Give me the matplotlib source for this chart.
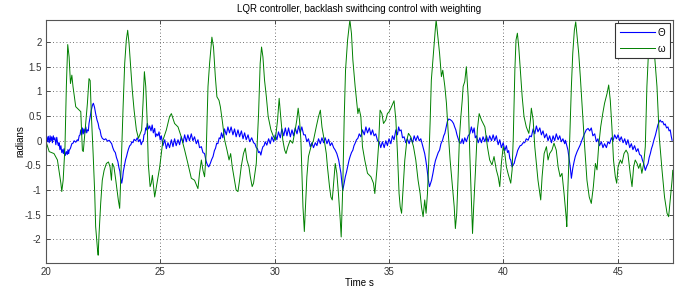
import numpy as np
import matplotlib
matplotlib.use("Agg")
import matplotlib.pyplot as plt

# omega (green) trace
omega_t = [
    20.00, 20.15, 20.36, 20.51, 20.66, 20.70, 20.76, 20.84, 20.90, 20.96,
    21.02, 21.08, 21.14, 21.19, 21.31, 21.46, 21.53, 21.60, 21.64, 21.72,
    21.82, 21.89, 21.94, 21.99, 22.07, 22.14, 22.18, 22.26, 22.29, 22.33,
    22.40, 22.47, 22.55, 22.65, 22.74, 22.81, 22.87, 22.91, 22.98, 23.06,
    23.17, 23.23, 23.29, 23.38, 23.45, 23.52, 23.58, 23.64, 23.71, 23.78,
    23.86, 23.96, 24.05, 24.10, 24.19, 24.25, 24.31, 24.37, 24.43, 24.48,
    24.56, 24.61, 24.66, 24.76, 24.86, 24.98, 25.12, 25.27, 25.41, 25.49,
    25.63, 25.78, 25.92, 26.07, 26.21, 26.36, 26.50, 26.65, 26.72, 26.80,
    26.87, 26.94, 27.01, 27.09, 27.16, 27.26, 27.33, 27.41, 27.48, 27.57,
    27.63, 27.71, 27.82, 27.92, 28.01, 28.08, 28.15, 28.25, 28.32, 28.40,
    28.47, 28.54, 28.64, 28.72, 28.79, 28.88, 28.94, 29.02, 29.08, 29.20,
    29.30, 29.37, 29.43, 29.49, 29.56, 29.64, 29.72, 29.84, 29.93, 30.03,
    30.13, 30.20, 30.28, 30.36, 30.44, 30.50, 30.58, 30.68, 30.79, 30.90,
    30.97, 31.03, 31.09, 31.15, 31.19, 31.24, 31.30, 31.35, 31.41, 31.48,
    31.59, 31.70, 31.82, 31.92, 32.00, 32.07, 32.17, 32.26, 32.31, 32.40,
    32.46, 32.52, 32.58, 32.65, 32.72, 32.79, 32.87, 32.91, 32.98, 33.04,
    33.10, 33.19, 33.29, 33.36, 33.42, 33.52, 33.64, 33.69, 33.77, 33.84,
    33.94, 34.06, 34.21, 34.32, 34.38, 34.47, 34.54, 34.61, 34.69, 34.76,
    34.86, 34.93, 35.01, 35.08, 35.17, 35.22, 35.30, 35.37, 35.44, 35.49,
    35.55, 35.62, 35.69, 35.78, 35.85, 35.95, 36.07, 36.17, 36.27, 36.36,
    36.42, 36.49, 36.56, 36.62, 36.68, 36.74, 36.80, 36.85, 36.94, 37.02,
    37.06, 37.12, 37.21, 37.29, 37.35, 37.44, 37.51, 37.58, 37.67, 37.77,
    37.85, 37.90, 37.96, 38.02, 38.08, 38.14, 38.20, 38.24, 38.31, 38.38,
    38.46, 38.53, 38.60, 38.65, 38.70, 38.78, 38.86, 38.94, 39.04, 39.19,
    39.30, 39.40, 39.50, 39.59, 39.69, 39.77, 39.84, 39.91, 39.99, 40.06,
    40.13, 40.20, 40.32, 40.38, 40.43, 40.50, 40.55, 40.61, 40.67, 40.74,
    40.82, 40.90, 41.00, 41.11, 41.18, 41.22, 41.30, 41.37, 41.44, 41.51,
    41.59, 41.63, 41.69, 41.78, 41.88, 41.95, 42.02, 42.12, 42.21, 42.31,
    42.39, 42.48, 42.56, 42.65, 42.74, 42.77, 42.82, 42.90, 42.97, 43.03,
    43.10, 43.16, 43.22, 43.29, 43.36, 43.46, 43.55, 43.65, 43.75, 43.84,
    43.93, 44.02, 44.09, 44.16, 44.25, 44.34, 44.42, 44.53, 44.60, 44.67,
    44.74, 44.81, 44.89, 44.95, 45.01, 45.11, 45.18, 45.27, 45.36, 45.44,
    45.54, 45.62, 45.69, 45.76, 45.84, 45.91, 45.98, 46.05, 46.13, 46.20,
    46.27, 46.35, 46.42, 46.48, 46.55, 46.61, 46.71, 46.81, 46.93, 47.04,
    47.15, 47.22, 47.29, 47.37, 47.40,
]
omega_v = [
    0.00, -0.22, -0.26, -0.39, -0.86, -1.03, -0.80, -0.12, 1.10, 1.95,
    1.70, 1.16, 1.33, 1.10, 0.69, 0.62, 0.59, -0.19, -0.22, 0.22,
    0.76, 1.26, 1.22, 0.55, -0.26, -1.07, -1.74, -2.20, -2.32, -1.88,
    -1.27, -0.80, -0.60, -0.46, -0.43, -0.53, -0.80, -0.46, -0.53, -0.80,
    -1.20, -1.37, -0.59, 0.69, 1.57, 2.04, 2.24, 1.97, 1.50, 1.03,
    0.62, 0.22, 0.05, 0.11, 0.22, 0.76, 1.40, 1.10, 0.42, -0.46,
    -0.93, -0.86, -0.70, -1.14, -0.86, -0.53, 0.01, 0.22, 0.49, 0.55,
    0.35, 0.28, 0.08, -0.19, -0.46, -0.76, -0.80, -0.97, -0.66, -0.39,
    -0.60, -0.73, -0.26, 1.10, 1.57, 2.10, 1.90, 1.30, 0.89, 0.82,
    0.69, 0.42, 0.01, -0.19, -0.39, -0.26, -0.53, -0.80, -1.00, -1.03,
    -0.80, -0.53, -0.26, -0.15, -0.39, -0.53, -0.73, -0.93, -0.86, -0.46,
    0.55, 1.57, 1.90, 1.70, 1.23, 0.89, 0.49, 0.22, 0.11, 0.01,
    0.42, 0.86, 0.42, 0.01, -0.19, -0.26, -0.12, 0.01, -0.05, 0.22,
    0.42, 0.66, 0.42, 0.01, -0.60, -1.34, -1.84, -1.34, -0.73, -0.32,
    -0.12, 0.01, 0.28, 0.49, 0.62, 0.28, 0.01, -0.26, -0.53, -0.93,
    -1.14, -1.20, -0.86, -0.46, -0.66, -1.07, -1.61, -1.95, -0.93, 0.42,
    1.43, 2.04, 2.45, 2.17, 1.64, 1.10, 0.55, 0.66, 0.49, -0.12,
    -0.39, -0.66, -0.73, -0.86, -1.07, -0.59, -0.12, 0.62, 0.55, 0.35,
    0.42, 0.55, 0.59, 0.66, 0.76, 0.81, 0.42, -0.26, -1.07, -1.34,
    -1.47, -0.93, -0.39, 0.01, 0.15, 0.08, -0.12, -0.39, -0.80, -1.07,
    -1.34, -1.54, -1.20, -1.47, -1.07, -0.39, 0.42, 1.23, 1.77, 2.24,
    2.45, 2.17, 1.77, 1.30, 1.43, 1.10, 0.76, 0.22, -0.39, -0.93,
    -1.34, -1.78, -1.47, -0.73, 0.08, 0.49, 0.82, 1.10, 1.20, 1.50,
    0.89, -0.26, -1.20, -1.88, -1.34, -0.59, 0.22, 0.55, 0.42, 0.28,
    -0.12, -0.39, -0.49, -0.32, -0.59, -0.73, -0.93, -0.46, -0.12, -0.26,
    -0.53, -0.66, -0.86, -0.59, 0.05, 1.43, 2.04, 2.18, 1.90, 1.43,
    0.89, 0.49, 0.28, 0.15, 0.42, 0.66, 0.42, -0.12, -0.46, -0.80,
    -1.07, -1.20, -0.73, -0.26, -0.12, -0.39, -0.26, -0.19, -0.05, -0.19,
    -0.53, -0.73, -0.66, -1.07, -1.54, -1.74, -0.93, 0.08, 1.10, 1.77,
    2.24, 2.41, 2.11, 1.77, 1.30, 0.55, -0.12, -0.80, -1.14, -1.27,
    -0.93, -0.46, -0.59, -0.12, 0.28, 0.55, 0.76, 0.96, 1.13, 0.82,
    0.28, -0.39, -0.73, -0.86, -0.53, -0.39, -0.46, -0.26, -0.19, -0.26,
    -0.66, -0.93, -0.53, -0.39, -0.46, -0.56, -0.46, -0.66, -0.46, -0.12,
    1.10, 1.90, 2.18, 2.35, 2.10, 1.70, 1.10, 0.08, -0.59, -1.14,
    -1.47, -1.54, -1.20, -0.80, -0.60,
]

# theta (blue) trace
theta_t = [
    20.00, 20.04, 20.07, 20.11, 20.15, 20.19, 20.22, 20.26, 20.29, 20.33,
    20.36, 20.40, 20.44, 20.48, 20.51, 20.55, 20.58, 20.62, 20.66, 20.70,
    20.74, 20.77, 20.80, 20.85, 20.90, 20.94, 20.97, 21.00, 21.02, 21.08,
    21.14, 21.19, 21.24, 21.31, 21.38, 21.42, 21.46, 21.50, 21.53, 21.57,
    21.60, 21.64, 21.67, 21.71, 21.75, 21.79, 21.82, 21.86, 21.89, 21.94,
    21.99, 22.04, 22.08, 22.13, 22.18, 22.24, 22.29, 22.33, 22.37, 22.42,
    22.47, 22.55, 22.62, 22.70, 22.77, 22.83, 22.88, 22.93, 22.98, 23.04,
    23.09, 23.15, 23.20, 23.24, 23.27, 23.32, 23.36, 23.39, 23.44, 23.49,
    23.53, 23.57, 23.62, 23.67, 23.72, 23.76, 23.81, 23.86, 23.93, 24.00,
    24.06, 24.12, 24.17, 24.22, 24.26, 24.29, 24.33, 24.37, 24.40, 24.44,
    24.49, 24.54, 24.60, 24.65, 24.70, 24.76, 24.80, 24.85, 24.90, 24.95,
    25.00, 25.05, 25.12, 25.20, 25.27, 25.34, 25.41, 25.49, 25.56, 25.63,
    25.70, 25.78, 25.85, 25.92, 26.00, 26.07, 26.14, 26.21, 26.28, 26.36,
    26.43, 26.50, 26.58, 26.65, 26.72, 26.80, 26.87, 26.94, 27.00, 27.04,
    27.08, 27.12, 27.16, 27.19, 27.25, 27.31, 27.37, 27.42, 27.47, 27.52,
    27.58, 27.63, 27.68, 27.74, 27.81, 27.89, 27.96, 28.03, 28.10, 28.18,
    28.25, 28.32, 28.40, 28.47, 28.55, 28.62, 28.69, 28.76, 28.84, 28.91,
    29.00, 29.08, 29.14, 29.20, 29.25, 29.30, 29.35, 29.40, 29.45, 29.49,
    29.54, 29.59, 29.66, 29.74, 29.81, 29.88, 29.96, 30.03, 30.10, 30.17,
    30.25, 30.32, 30.40, 30.47, 30.54, 30.61, 30.69, 30.76, 30.83, 30.90,
    30.98, 31.05, 31.12, 31.19, 31.27, 31.34, 31.41, 31.48, 31.56, 31.63,
    31.70, 31.78, 31.85, 31.92, 32.00, 32.07, 32.14, 32.21, 32.29, 32.36,
    32.43, 32.50, 32.58, 32.65, 32.72, 32.80, 32.85, 32.90, 32.94, 32.98,
    33.04, 33.09, 33.14, 33.19, 33.25, 33.30, 33.36, 33.42, 33.47, 33.52,
    33.58, 33.64, 33.70, 33.77, 33.84, 33.92, 33.99, 34.06, 34.14, 34.21,
    34.28, 34.35, 34.42, 34.50, 34.57, 34.64, 34.71, 34.79, 34.86, 34.93,
    35.00, 35.08, 35.15, 35.22, 35.30, 35.37, 35.42, 35.47, 35.53, 35.59,
    35.66, 35.73, 35.80, 35.88, 35.95, 36.03, 36.10, 36.17, 36.25, 36.32,
    36.39, 36.46, 36.51, 36.56, 36.61, 36.65, 36.69, 36.72, 36.77, 36.82,
    36.86, 36.92, 36.97, 37.03, 37.09, 37.15, 37.21, 37.27, 37.34, 37.39,
    37.44, 37.50, 37.55, 37.61, 37.67, 37.75, 37.82, 37.87, 37.92, 37.97,
    38.02, 38.08, 38.14, 38.20, 38.25, 38.31, 38.38, 38.46, 38.53, 38.60,
    38.66, 38.72, 38.77, 38.82, 38.90, 38.97, 39.04, 39.11, 39.19, 39.26,
    39.33, 39.40, 39.48, 39.55, 39.62, 39.69, 39.77, 39.84, 39.91, 39.99,
    40.06, 40.13, 40.18, 40.23, 40.28, 40.32, 40.38, 40.43, 40.47, 40.52,
    40.57, 40.62, 40.67, 40.73, 40.79, 40.86, 40.93, 41.00, 41.08, 41.15,
    41.22, 41.30, 41.37, 41.44, 41.51, 41.59, 41.66, 41.73, 41.80, 41.88,
    41.95, 42.02, 42.10, 42.17, 42.24, 42.31, 42.39, 42.46, 42.53, 42.60,
    42.68, 42.71, 42.76, 42.82, 42.87, 42.92, 42.97, 43.00, 43.03, 43.09,
    43.14, 43.22, 43.29, 43.36, 43.43, 43.49, 43.55, 43.62, 43.70, 43.77,
    43.84, 43.91, 43.99, 44.06, 44.13, 44.20, 44.28, 44.35, 44.42, 44.50,
    44.57, 44.64, 44.72, 44.79, 44.86, 44.94, 45.01, 45.08, 45.15, 45.23,
    45.30, 45.37, 45.44, 45.52, 45.59, 45.66, 45.73, 45.81, 45.88, 45.95,
    46.02, 46.08, 46.13, 46.17, 46.20, 46.26, 46.32, 46.37, 46.42, 46.47,
    46.52, 46.58, 46.64, 46.70, 46.75, 46.80, 46.85, 46.90, 46.96, 47.02,
    47.07, 47.13, 47.19, 47.24, 47.29, 47.33, 47.37,
]
theta_v = [
    0.00, 0.08, -0.02, 0.09, -0.04, 0.10, 0.00, 0.08, -0.04, 0.10,
    0.02, 0.06, -0.08, 0.07, -0.02, -0.10, -0.04, -0.18, -0.10, -0.24,
    -0.18, -0.26, -0.16, -0.30, -0.22, -0.28, -0.18, -0.26, -0.20, -0.15,
    -0.06, -0.05, 0.00, -0.03, 0.02, 0.00, 0.10, 0.12, 0.22, 0.12,
    0.26, 0.14, 0.24, 0.16, 0.28, 0.16, 0.22, 0.20, 0.35, 0.48,
    0.62, 0.72, 0.76, 0.68, 0.55, 0.42, 0.35, 0.25, 0.22, 0.10,
    0.05, 0.02, 0.04, -0.01, 0.01, -0.03, -0.06, -0.14, -0.20, -0.24,
    -0.34, -0.42, -0.55, -0.62, -0.75, -0.86, -0.75, -0.62, -0.50, -0.38,
    -0.32, -0.24, -0.16, -0.10, -0.08, -0.02, -0.04, 0.03, 0.00, 0.06,
    -0.02, 0.03, -0.08, -0.02, 0.00, 0.12, 0.14, 0.26, 0.22, 0.35,
    0.24, 0.30, 0.20, 0.32, 0.16, 0.25, 0.08, 0.14, 0.10, 0.18,
    0.02, 0.10, -0.10, 0.02, -0.16, -0.04, -0.14, 0.02, -0.12, 0.04,
    -0.10, 0.02, -0.08, 0.08, -0.04, 0.12, -0.02, 0.12, 0.00, 0.14,
    0.00, 0.08, -0.06, 0.02, -0.14, -0.12, -0.24, -0.26, -0.40, -0.46,
    -0.50, -0.53, -0.49, -0.46, -0.38, -0.32, -0.20, -0.15, -0.05, -0.06,
    0.06, 0.04, 0.16, 0.06, 0.24, 0.12, 0.28, 0.16, 0.28, 0.12,
    0.24, 0.08, 0.22, 0.08, 0.20, 0.04, 0.16, 0.02, 0.12, -0.02,
    0.06, -0.04, -0.06, -0.14, -0.16, -0.24, -0.22, -0.29, -0.18, -0.12,
    -0.10, -0.02, -0.09, 0.04, -0.06, 0.08, -0.02, 0.12, 0.02, 0.18,
    0.06, 0.24, 0.10, 0.26, 0.10, 0.26, 0.08, 0.22, 0.10, 0.26,
    0.14, 0.30, 0.16, 0.28, 0.12, 0.12, -0.02, 0.04, -0.12, -0.04,
    -0.14, -0.04, -0.10, 0.04, -0.06, 0.06, -0.04, 0.06, -0.06, 0.03,
    -0.10, -0.04, -0.14, -0.19, -0.26, -0.39, -0.52, -0.66, -0.85, -1.00,
    -0.86, -0.73, -0.64, -0.53, -0.40, -0.32, -0.24, -0.19, -0.10, -0.05,
    0.02, 0.05, 0.14, 0.08, 0.22, 0.12, 0.28, 0.16, 0.26, 0.12,
    0.22, 0.10, 0.14, 0.00, -0.02, -0.14, -0.02, -0.14, 0.00, -0.10,
    0.04, -0.06, 0.10, 0.02, 0.22, 0.12, 0.28, 0.20, 0.22, 0.06,
    0.08, -0.04, 0.04, -0.06, 0.06, -0.04, 0.10, 0.00, 0.10, 0.00,
    0.04, -0.08, -0.16, -0.26, -0.40, -0.53, -0.68, -0.80, -0.93, -0.86,
    -0.80, -0.66, -0.53, -0.40, -0.32, -0.24, -0.19, -0.06, 0.01, 0.10,
    0.15, 0.28, 0.39, 0.44, 0.43, 0.40, 0.35, 0.28, 0.22, 0.12,
    0.05, -0.04, -0.05, 0.04, -0.06, 0.06, -0.02, 0.10, 0.14, 0.28,
    0.16, 0.26, 0.06, 0.10, -0.04, 0.06, -0.04, 0.08, -0.02, 0.10,
    -0.02, 0.10, 0.00, 0.12, 0.00, 0.10, -0.08, 0.02, -0.14, -0.04,
    -0.20, -0.10, -0.24, -0.20, -0.36, -0.39, -0.53, -0.48, -0.46, -0.36,
    -0.29, -0.20, -0.15, -0.10, -0.09, -0.04, -0.04, 0.04, 0.01, 0.10,
    0.08, 0.24, 0.14, 0.30, 0.18, 0.26, 0.12, 0.20, 0.06, 0.14,
    0.00, 0.10, -0.04, 0.10, 0.00, 0.14, 0.02, 0.10, -0.02, 0.04,
    -0.06, 0.01, -0.08, -0.19, -0.36, -0.53, -0.76, -0.66, -0.56, -0.42,
    -0.32, -0.22, -0.15, -0.08, 0.01, 0.08, 0.15, 0.22, 0.25, 0.20,
    0.26, 0.10, 0.14, -0.02, 0.04, -0.10, -0.02, -0.14, -0.06, -0.14,
    -0.02, -0.06, 0.06, 0.00, 0.12, 0.04, 0.12, 0.00, 0.08, -0.04,
    0.04, -0.08, 0.02, -0.14, -0.06, -0.18, -0.10, -0.22, -0.16, -0.28,
    -0.30, -0.40, -0.46, -0.54, -0.60, -0.52, -0.46, -0.34, -0.26, -0.16,
    -0.09, 0.02, 0.11, 0.22, 0.32, 0.38, 0.42, 0.38, 0.39, 0.32,
    0.34, 0.26, 0.28, 0.20, 0.22, 0.10, 0.01,
]

x_ticks = [20, 25, 30, 35, 40, 45]
y_ticks = [-2, -1.5, -1, -0.5, 0, 0.5, 1, 1.5, 2]


def main():
    plt.rcParams["font.family"] = ["Liberation Sans", "DejaVu Sans"]

    fig = plt.figure(figsize=(6.83, 2.87), dpi=100)
    ax = fig.add_axes([0.067, 0.085, 0.918, 0.844])

    ax.plot(theta_t, theta_v, color="#0000ff", linewidth=0.8, label="\u0398")
    ax.plot(omega_t, omega_v, color="#008000", linewidth=0.7, label="\u03c9")

    ax.set_xlim(20, 47.4)
    ax.set_ylim(-2.47, 2.44)
    ax.set_xticks(x_ticks)
    ax.set_yticks(y_ticks)
    ax.set_yticklabels([("%g" % v) for v in y_ticks])

    ax.tick_params(direction="in", top=True, right=True, labelsize=7,
                   length=3, width=0.6, colors="#333333", pad=3)
    for s in ax.spines.values():
        s.set_color("#555555")
        s.set_linewidth(0.8)

    ax.grid(True, linestyle=(0, (1, 3)), color="#444444", linewidth=0.6)

    ax.set_title("LQR controller, backlash swithcing control with weighting",
                 fontsize=7, pad=6)
    ax.set_xlabel("Time s", fontsize=7, labelpad=1)
    ax.set_ylabel("radians", fontsize=7, labelpad=0)

    leg = ax.legend(loc="upper right", fontsize=7, fancybox=False,
                    framealpha=1, edgecolor="#333333", handlelength=3.6,
                    borderaxespad=0.25, labelspacing=0.6, handletextpad=0.3,
                    borderpad=0.5)
    leg.get_frame().set_linewidth(0.8)

    fig.savefig("out.png", dpi=100)


if __name__ == "__main__":
    main()
